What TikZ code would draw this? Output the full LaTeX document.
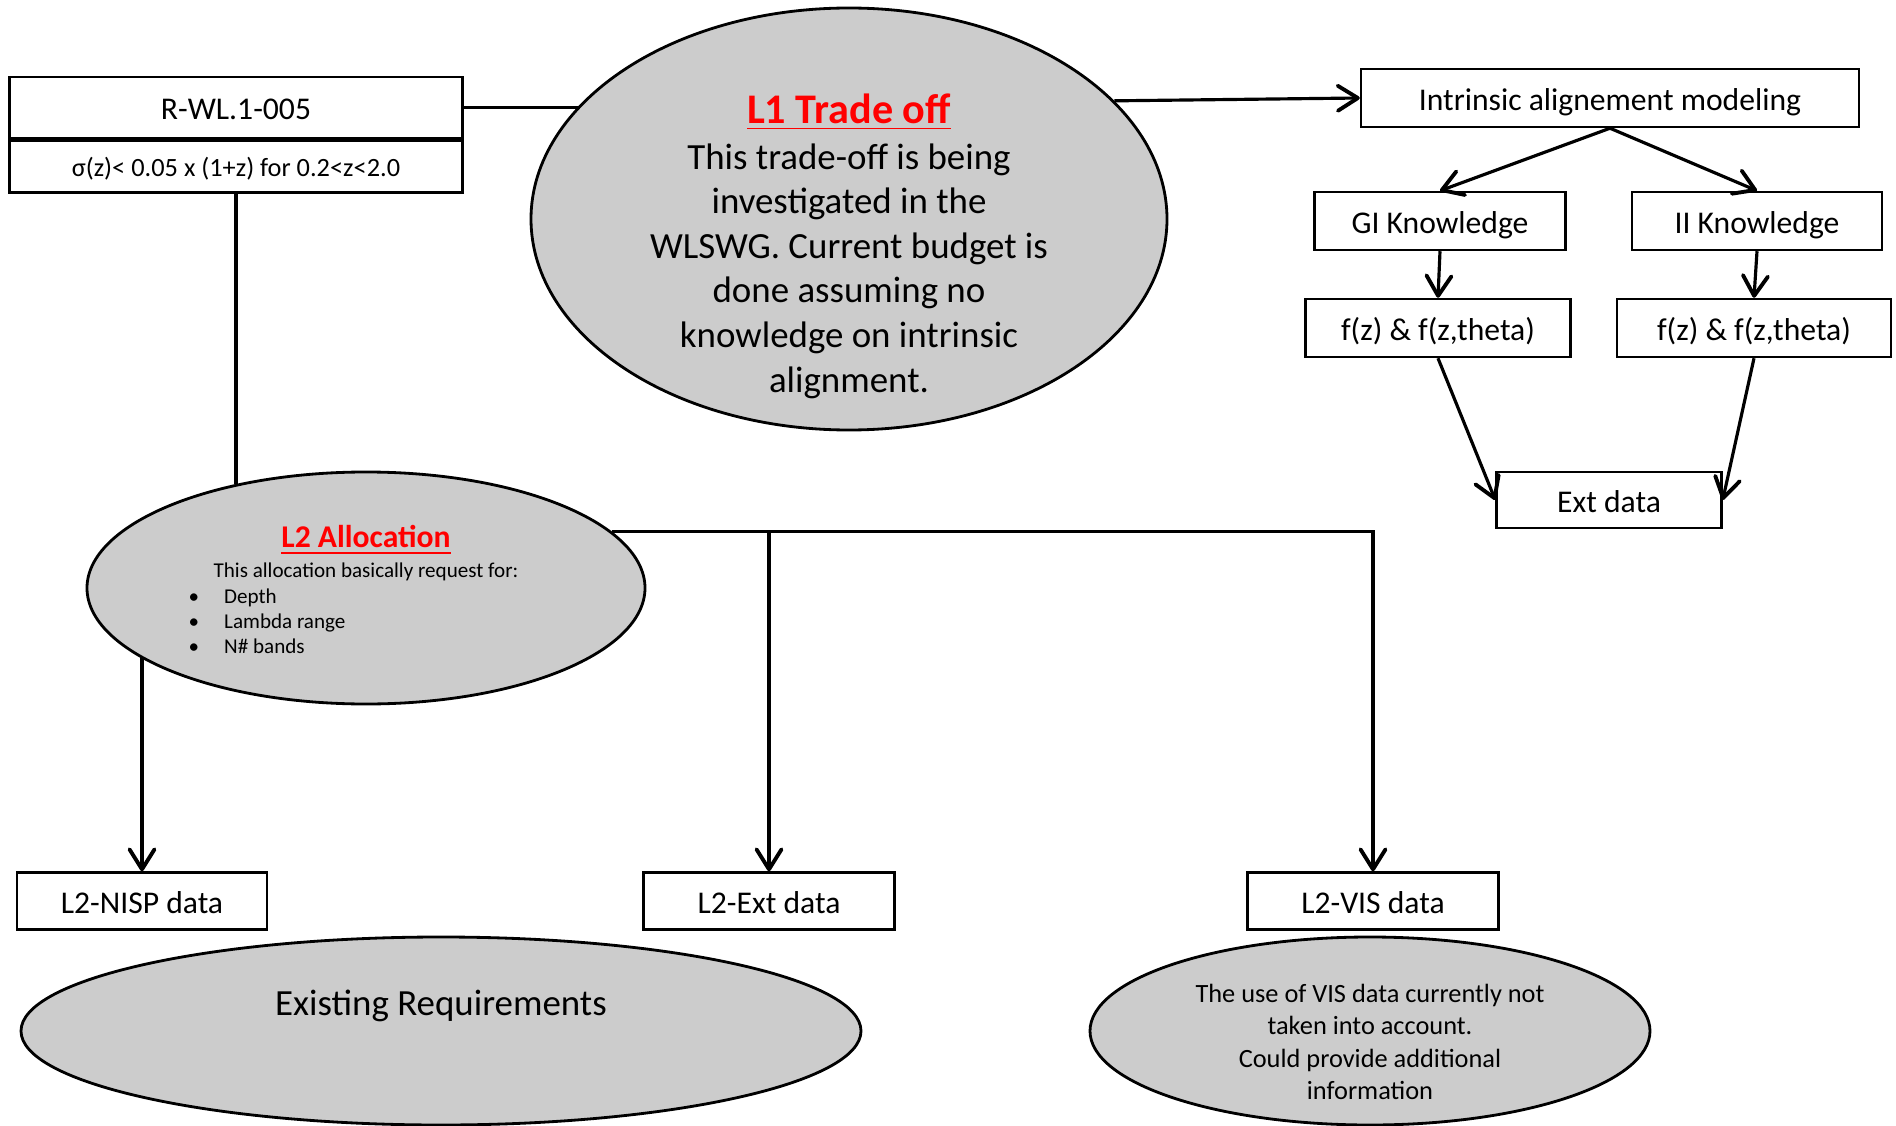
\documentclass[tikz,border=0pt]{standalone}
\usepackage{fontspec}
\setmainfont{Carlito}
\usepackage{xcolor}
\usepackage{tikz}
\usetikzlibrary{shapes.geometric, arrows.meta, positioning}

\definecolor{bubblegray}{RGB}{204,204,204}

\begin{document}
\begin{tikzpicture}[
    box/.style={rectangle, draw, line width=0.7pt, fill=white, inner sep=0pt, align=center, text height=9pt, text depth=2pt, font=\fontsize{9}{11}\selectfont},
    bubble/.style={ellipse, draw, line width=0.8pt, fill=bubblegray, inner sep=0pt, align=center},
    line/.style={line width=0.9pt},
    arrow/.style={line, -{Straight Barb[length=2mm, width=2.5mm, line width=1.1pt, round]}},
]
\useasboundingbox (0,0) rectangle (18.96,-11.26);

% Requirement
\node[box, minimum width=4.53cm, minimum height=0.61cm] (rwl) at (2.36,-1.075) {R-WL.1-005};
\node[box, minimum width=4.53cm, minimum height=0.52cm, below=0pt of rwl, text height=7.5pt, text depth=1.8pt, font=\fontsize{7.5}{9}\selectfont] (rwlsub) {σ(z)< 0.05 x (1+z) for 0.2<z<2.0};

% L1 trade-off
\node[bubble, minimum width=6.36cm, minimum height=4.22cm] (l1) at (8.49,-2.19) {};
\node[align=center, font=\fontsize{10.5}{12.7}\selectfont] (l1txt) at (8.49,-2.46)
  {{\fontsize{12}{14}\selectfont\bfseries\color{red}\underline{L1 Trade off}}\\[0.4pt]
   This trade-off is being\\ investigated in the\\ WLSWG. Current budget is\\
   done assuming no\\ knowledge on intrinsic\\ alignment.};

% Intrinsic alignment branch
\node[box, minimum width=4.98cm, minimum height=0.58cm] (iam) at (16.10,-0.98) {Intrinsic alignement modeling};
\node[box, minimum width=2.51cm, minimum height=0.58cm] (gi) at (14.40,-2.21) {GI Knowledge};
\node[box, minimum width=2.50cm, minimum height=0.58cm] (ii) at (17.57,-2.21) {II Knowledge};
\node[box, minimum width=2.65cm, minimum height=0.58cm] (fgi) at (14.38,-3.28) {f(z) \& f(z,theta)};
\node[box, minimum width=2.74cm, minimum height=0.58cm] (fii) at (17.54,-3.28) {f(z) \& f(z,theta)};
\node[box, minimum width=2.25cm, minimum height=0.56cm] (ext) at (16.09,-5.00) {Ext data};

% L2 allocation
\node[bubble, minimum width=5.58cm, minimum height=2.32cm] (l2) at (3.66,-5.88) {};
\node[align=center, font=\fontsize{6}{7.2}\selectfont, anchor=north] (l2txt) at (3.66,-5.13)
  {{\fontsize{9}{10}\selectfont\bfseries\color{red}\underline{L2 Allocation}}\\[1.2pt]
   This allocation basically request for:};
\node[align=left, font=\fontsize{6}{7}\selectfont, anchor=north west, inner sep=0pt] (l2list) at (1.88,-5.86)
  {\begin{tabular}{@{}l@{\hspace{0.25cm}}l@{}}
   \textbullet & Depth\\
   \textbullet & Lambda range\\
   \textbullet & N\# bands
   \end{tabular}};

% L2 data products
\node[box, minimum width=2.50cm, minimum height=0.57cm] (nisp) at (1.42,-9.01) {L2-NISP data};
\node[box, minimum width=2.51cm, minimum height=0.57cm] (l2ext) at (7.69,-9.01) {L2-Ext data};
\node[box, minimum width=2.51cm, minimum height=0.57cm] (vis) at (13.73,-9.01) {L2-VIS data};

% Notes
\node[bubble, minimum width=8.40cm, minimum height=1.88cm] (exreq) at (4.41,-10.31) {};
\node[font=\fontsize{10.5}{12.7}\selectfont] (exreqtxt) at (4.41,-10.06) {Existing Requirements};
\node[bubble, minimum width=5.60cm, minimum height=1.88cm] (visnote) at (13.70,-10.31) {};
\node[align=center, font=\fontsize{7.5}{9.2}\selectfont] (visnotetxt) at (13.70,-10.42)
  {The use of VIS data currently not\\ taken into account.\\ Could provide additional\\ information};

% Connectors
\draw[line] (rwl.east) -- (l1.157 |- rwl.east);
\draw[arrow] (l1.24) -- (iam.west);
\draw[arrow] (iam.south) -- (gi.north);
\draw[arrow] (iam.south) -- (ii.north);
\draw[arrow] (gi.south) -- (fgi.north);
\draw[arrow] (ii.south) -- (fii.north);
\draw[arrow] (fgi.south) -- (ext.west);
\draw[arrow] (fii.south) -- (ext.east);
\draw[line] (rwlsub.south) -- (rwlsub.south |- l2.141);
\draw[arrow] (l2.13) -| (vis.north);
\draw[arrow] (l2.13 -| l2ext.north) -- (l2ext.north);
\draw[arrow] (nisp.north |- l2.197) -- (nisp.north);

\end{tikzpicture}
\end{document}
